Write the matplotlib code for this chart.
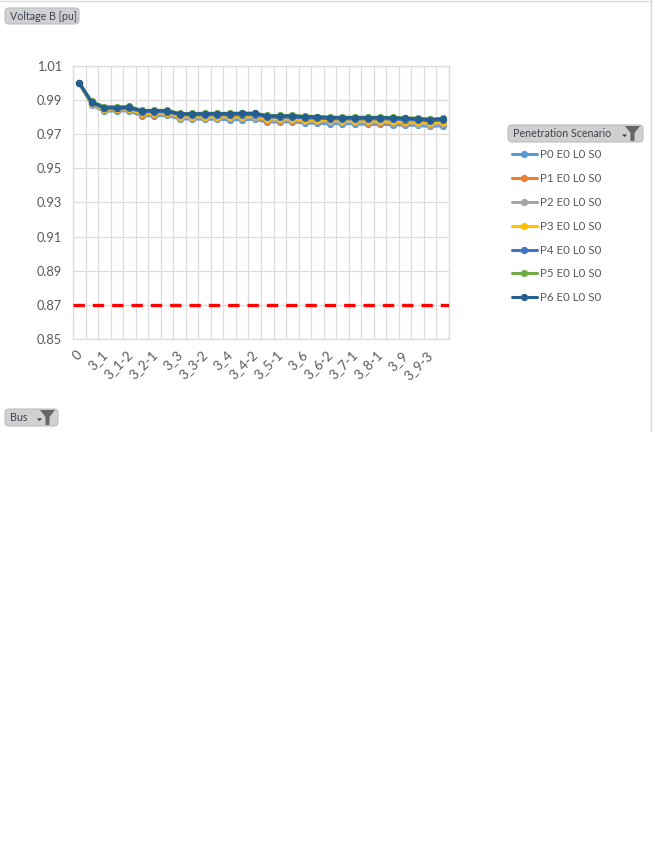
import matplotlib
matplotlib.use('Agg')
import matplotlib.pyplot as plt
from matplotlib.patches import FancyBboxPatch, Polygon
from matplotlib.transforms import ScaledTranslation

plt.rcParams['font.family'] = ['Lato', 'DejaVu Sans']

categories = ['0', '3', '3_1', '3_1-1', '3_1-2', '3_2', '3_2-1', '3_2-2', '3_3', '3_3-1',
              '3_3-2', '3_3-3', '3_4', '3_4-1', '3_4-2', '3_5', '3_5-1', '3_5-2', '3_6', '3_6-1',
              '3_6-2', '3_7', '3_7-1', '3_8', '3_8-1', '3_8-2', '3_9', '3_9-1', '3_9-3', '3_9-4']

p0 = [1.0, 0.9872, 0.9834, 0.9838, 0.9836, 0.9808, 0.9808, 0.9812, 0.9790, 0.9790,
      0.9788, 0.9788, 0.9786, 0.9786, 0.9788, 0.9772, 0.9772, 0.9772, 0.9766, 0.9764,
      0.9762, 0.9762, 0.9762, 0.9758, 0.9758, 0.9756, 0.9754, 0.9752, 0.9746, 0.9750]
p1 = [1.0, 0.9876, 0.9840, 0.9844, 0.9842, 0.9814, 0.9814, 0.9818, 0.9796, 0.9796,
      0.9795, 0.9795, 0.9794, 0.9794, 0.9796, 0.9780, 0.9780, 0.9780, 0.9775, 0.9773,
      0.9771, 0.9770, 0.9770, 0.9767, 0.9767, 0.9765, 0.9763, 0.9761, 0.9755, 0.9759]
p2 = [1.0, 0.9876, 0.9842, 0.9846, 0.9844, 0.9816, 0.9816, 0.9820, 0.9798, 0.9798,
      0.9797, 0.9797, 0.9796, 0.9796, 0.9798, 0.9782, 0.9782, 0.9782, 0.9777, 0.9775,
      0.9773, 0.9772, 0.9772, 0.9769, 0.9769, 0.9767, 0.9765, 0.9763, 0.9757, 0.9761]
p3 = [1.0, 0.9878, 0.9846, 0.9850, 0.9848, 0.9822, 0.9822, 0.9826, 0.9804, 0.9804,
      0.9804, 0.9804, 0.9803, 0.9803, 0.9805, 0.9790, 0.9790, 0.9790, 0.9785, 0.9783,
      0.9781, 0.9780, 0.9780, 0.9778, 0.9778, 0.9776, 0.9774, 0.9772, 0.9766, 0.9770]
p4 = [1.0, 0.9884, 0.9852, 0.9852, 0.9853, 0.9832, 0.9832, 0.9832, 0.9814, 0.9814,
      0.9814, 0.9814, 0.9814, 0.9815, 0.9815, 0.9800, 0.9800, 0.9800, 0.9796, 0.9794,
      0.9791, 0.9790, 0.9790, 0.9790, 0.9790, 0.9789, 0.9786, 0.9784, 0.9779, 0.9783]
p5 = [1.0, 0.9892, 0.9862, 0.9862, 0.9863, 0.9840, 0.9840, 0.9840, 0.9822, 0.9822,
      0.9823, 0.9823, 0.9823, 0.9824, 0.9824, 0.9810, 0.9810, 0.9810, 0.9806, 0.9804,
      0.9801, 0.9800, 0.9800, 0.9800, 0.9800, 0.9799, 0.9796, 0.9794, 0.9789, 0.9793]
p6 = [1.0, 0.9888, 0.9856, 0.9856, 0.9857, 0.9838, 0.9838, 0.9838, 0.9820, 0.9820,
      0.9821, 0.9821, 0.9821, 0.9822, 0.9822, 0.9807, 0.9807, 0.9807, 0.9803, 0.9801,
      0.9798, 0.9797, 0.9797, 0.9797, 0.9797, 0.9796, 0.9793, 0.9791, 0.9786, 0.9790]

series = [p0, p1, p2, p3, p4, p5, p6]
names = ['P0 E0 L0 S0', 'P1 E0 L0 S0', 'P2 E0 L0 S0', 'P3 E0 L0 S0',
         'P4 E0 L0 S0', 'P5 E0 L0 S0', 'P6 E0 L0 S0']
colors = ['#5B9BD5', '#ED7D31', '#A5A5A5', '#FFC000', '#4472C4', '#70AD47', '#255E91']
limit = 0.87
y_ticks = [0.85, 0.87, 0.89, 0.91, 0.93, 0.95, 0.97, 0.99, 1.01]

W, H = 660, 851
fig = plt.figure(figsize=(W / 100, H / 100), dpi=100)

# overlay in pixel coords for the pivot buttons and the sheet edges
bg = fig.add_axes([0, 0, 1, 1], zorder=0)
bg.set_xlim(0, W)
bg.set_ylim(H, 0)
bg.axis('off')
bg.plot([0, 650.5], [0.5, 0.5], color='#DDDDDD', lw=1)
bg.plot([650.5, 650.5], [0, 431], color='#D4D4D4', lw=1)


def button(x0, y0, x1, y1, text, icon=True):
    bg.add_patch(FancyBboxPatch((x0 + 4, y0 + 4), x1 - x0 - 8, y1 - y0 - 8,
                                boxstyle='round,pad=4', fc='#D0D0D0', ec='#BDBDBD', lw=0.8))
    bg.text(x0 + 5, (y0 + y1) / 2, text, fontsize=7.7, color='#3B4250', va='center', ha='left')
    if icon:
        # little dropdown arrow and funnel
        bg.add_patch(Polygon([(x1 - 21, y0 + 9.5), (x1 - 16, y0 + 9.5), (x1 - 18.5, y0 + 12)], fc='#333333', ec='none'))
        bg.add_patch(Polygon([(x1 - 18, y0 + 1), (x1 - 3, y0 + 1), (x1 - 8.5, y0 + 8), (x1 - 8.5, y0 + 16),
                              (x1 - 12.5, y0 + 16), (x1 - 12.5, y0 + 8)], fc='#666666', ec='none'))


button(5, 8, 79, 24, 'Voltage B [pu]', icon=False)
button(508, 125, 643, 142, 'Penetration Scenario')
button(5, 409, 58, 426, 'Bus')

ax = fig.add_axes([73 / W, 1 - 339 / H, 376 / W, 273 / H], zorder=1)
ax.patch.set_alpha(0)
x = list(range(len(categories)))
for vals, name, c in zip(series, names, colors):
    ax.plot(x, vals, color=c, lw=2.2, marker='o', ms=4.2, label=name, solid_capstyle='round')
ax.axhline(limit, color='#FF0000', lw=2.4, dashes=(3.4, 2.4), zorder=3)

ax.set_xlim(-0.5, len(categories) - 0.5)
ax.set_ylim(0.85, 1.01)
ax.set_yticks(y_ticks)
ax.set_yticklabels(['%.2f' % v for v in y_ticks])
ax.set_xticks([v - 0.5 for v in x] + [len(x) - 0.5], minor=True)
ax.set_xticks(x[::2])
ax.set_xticklabels(categories[::2], rotation=45, ha='right', rotation_mode='anchor')
ax.grid(True, which='minor', axis='x', color='#DCDCDC', lw=0.9)
ax.grid(True, which='major', axis='y', color='#DCDCDC', lw=0.9)
ax.set_axisbelow(True)
ax.tick_params(which='both', length=0)
ax.tick_params(axis='y', labelsize=9.2, labelcolor='#595959', pad=8)
ax.tick_params(axis='x', labelsize=9.6, labelcolor='#595959', pad=7)
# labels sit a bit left of their category in the original
shift = ScaledTranslation(-2.5 / 72, 0, fig.dpi_scale_trans)
for lab in ax.get_xticklabels():
    lab.set_transform(lab.get_transform() + shift)
for s in ax.spines.values():
    s.set_color('#DCDCDC')
    s.set_linewidth(0.9)

ax.legend(loc='upper left', bbox_to_anchor=(512 / W, 1 - 149.5 / H), bbox_transform=fig.transFigure,
          frameon=False, fontsize=8.3, labelcolor='#595959', borderaxespad=0, borderpad=0,
          handlelength=2.15, handletextpad=0.25, labelspacing=1.11, markerscale=1)

fig.savefig('out.png', dpi=100)
